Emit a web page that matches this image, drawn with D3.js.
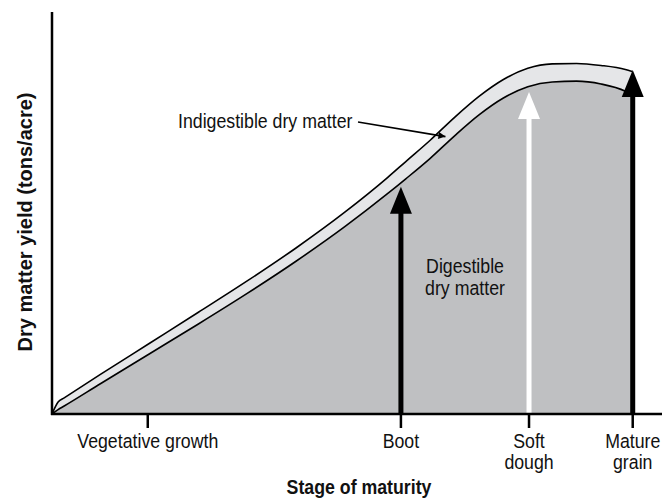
<!DOCTYPE html>
<html>
<head>
<meta charset="utf-8">
<script src="https://cdn.jsdelivr.net/npm/d3@7"></script>
<style>
  body { margin: 0; background: #fff; }
  text { font-family: "Liberation Sans", Arial, Helvetica, sans-serif; fill: #111; }
</style>
</head>
<body>
<div id="chart"></div>
<script>
// growth along the season (0-100) and dry matter yield (0-100, relative)
var growth     = [0, 1, 2, 8, 16, 24, 32, 40, 48, 55, 58, 62, 66, 70, 74, 78, 82, 86, 90, 94, 95.1];
var digestible = [0, 1.1, 2.0, 7.6, 15.0, 22.4, 30.0, 38.0, 46.6, 54.8, 58.5, 63.6, 69.2, 74.4, 78.6, 81.4, 82.6, 82.8, 82.1, 80.3, 79.4];
var totalDM    = [0, 3.0, 4.0, 9.9, 17.6, 25.3, 33.1, 41.3, 50.2, 58.8, 62.8, 68.1, 73.8, 79.0, 83.2, 86.0, 87.1, 87.2, 86.7, 85.7, 85.2];

// stages of maturity on the x axis
var stageNames = ["Vegetative growth", "Boot", "Soft dough", "Mature grain"];
var stageAt    = [15.7, 57.2, 78.2, 95.2];
// where each stage arrow points to (null = no arrow)
var arrowTo    = [null, 56.5, 80.1, 85.6];

var width = 664, height = 499;

var svg = d3.select("#chart").append("svg")
	.attr("width", width)
	.attr("height", height);

var x = d3.scaleLinear().domain([0, 100]).range([52, 662]);
var y = d3.scaleLinear().domain([0, 100]).range([414, 12]);

var pts = growth.map(function(g, i) {
	return { g: g, lo: digestible[i], hi: totalDM[i] };
});

var curve = d3.curveMonotoneX;

// digestible part (dark gray)
svg.append("path")
	.datum(pts)
	.attr("fill", "#bfc0c2")
	.attr("d", d3.area().curve(curve)
		.x(function(d) { return x(d.g); })
		.y0(y(0))
		.y1(function(d) { return y(d.lo); }));

// indigestible band (light gray)
svg.append("path")
	.datum(pts)
	.attr("fill", "#e5e6e8")
	.attr("d", d3.area().curve(curve)
		.x(function(d) { return x(d.g); })
		.y0(function(d) { return y(d.lo); })
		.y1(function(d) { return y(d.hi); }));

["lo", "hi"].forEach(function(k) {
	svg.append("path")
		.datum(pts)
		.attr("fill", "none")
		.attr("stroke", "#000")
		.attr("stroke-width", 1.6)
		.attr("d", d3.line().curve(curve)
			.x(function(d) { return x(d.g); })
			.y(function(d) { return y(d[k]); }));
});

// stage arrows
var arrowFill = ["#000", "#000", "#fff", "#000"];
stageNames.forEach(function(s, i) {
	if (arrowTo[i] == null) return;
	var ax = x(stageAt[i]), tip = y(arrowTo[i]), headH = 27, headW = 11;
	svg.append("rect")
		.attr("x", ax - 2.5)
		.attr("y", tip + headH - 1)
		.attr("width", 5)
		.attr("height", y(0) - tip - headH + 1)
		.attr("fill", arrowFill[i]);
	svg.append("path")
		.attr("d", "M" + ax + "," + tip + " L" + (ax + headW) + "," + (tip + headH) + " L" + (ax - headW) + "," + (tip + headH) + " Z")
		.attr("fill", arrowFill[i]);
});

// axes
var axisG = svg.append("g");
axisG.append("line")
	.attr("x1", x(0)).attr("x2", x(0))
	.attr("y1", y(100)).attr("y2", y(0) + 1)
	.attr("stroke", "#000").attr("stroke-width", 2.5);
axisG.append("line")
	.attr("x1", x(0) - 1).attr("x2", x(100))
	.attr("y1", y(0)).attr("y2", y(0))
	.attr("stroke", "#000").attr("stroke-width", 2.5);

axisG.selectAll(".tick")
	.data(stageAt)
	.enter().append("line")
	.attr("class", "tick")
	.attr("x1", function(d) { return x(d); })
	.attr("x2", function(d) { return x(d); })
	.attr("y1", y(0))
	.attr("y2", y(0) + 14)
	.attr("stroke", "#000").attr("stroke-width", 2.5);

// text squeezed a bit sideways, like the original lettering
function label(tx, ty, txt, size, bold) {
	return svg.append("text")
		.attr("transform", "translate(" + tx + "," + ty + ") scale(0.91,1)")
		.attr("text-anchor", "middle")
		.style("font-size", size + "px")
		.style("font-weight", bold ? "bold" : "normal")
		.text(txt);
}

// tick labels, split on the space for the two-line ones
stageNames.forEach(function(s, i) {
	var lines = (i == 0) ? [s] : s.split(" ");
	lines.forEach(function(t, j) {
		label(x(stageAt[i]), 448 + j * 21, t, 19.5, false);
	});
});

label(359, 494, "Stage of maturity", 19.5, true);

svg.append("text")
	.attr("transform", "translate(32,222) rotate(-90)")
	.attr("text-anchor", "middle")
	.style("font-size", "20px")
	.style("font-weight", "bold")
	.text("Dry matter yield (tons/acre)");

// annotations
label(465, 273, "Digestible", 19.5, false);
label(465, 295, "dry matter", 19.5, false);

svg.append("text")
	.attr("transform", "translate(178,128) scale(0.91,1)")
	.style("font-size", "19.5px")
	.text("Indigestible dry matter");

svg.append("defs").append("marker")
	.attr("id", "head")
	.attr("viewBox", "0 0 10 10")
	.attr("refX", 10).attr("refY", 5)
	.attr("markerWidth", 10).attr("markerHeight", 7)
	.attr("markerUnits", "userSpaceOnUse")
	.attr("orient", "auto")
	.append("path")
	.attr("d", "M0,0 L10,5 L0,10 Z")
	.attr("fill", "#000");

// pointer into the light band
svg.append("line")
	.attr("x1", 358).attr("y1", 122)
	.attr("x2", x(64.5)).attr("y2", y(69))
	.attr("stroke", "#000").attr("stroke-width", 1.6)
	.attr("marker-end", "url(#head)");
</script>
</body>
</html>
